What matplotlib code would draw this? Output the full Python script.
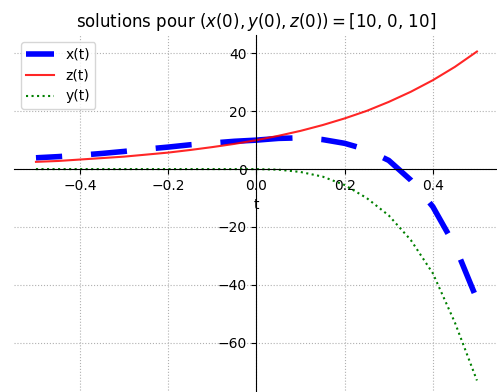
import matplotlib.pyplot as plt

# values
t = [-0.5, -0.45, -0.4, -0.35, -0.3, -0.25, -0.2, -0.15, -0.1, -0.05, 0.0,
     0.05, 0.1, 0.15, 0.2, 0.25, 0.3, 0.35, 0.4, 0.45, 0.5]
x_vals = [3.9, 4.3, 4.8, 5.4, 6.1, 6.9, 7.6, 8.4, 9.0, 9.6, 10.0,
          10.6, 10.8, 10.2, 8.9, 6.7, 3.0, -3.8, -13.0, -26.5, -45.0]
z_vals = [2.5, 2.8, 3.3, 3.8, 4.3, 5.0, 5.7, 6.6, 7.6, 8.7, 10.0,
          11.5, 13.2, 15.2, 17.5, 20.1, 23.2, 26.7, 30.7, 35.3, 40.6]
y_vals = [0.0, 0.0, 0.0, 0.0, 0.0, 0.0, 0.0, 0.0, 0.0, 0.0, 0.0,
          -0.2, -1.0, -2.6, -5.5, -10.0, -16.0, -24.5, -36.0, -53.0, -73.0]
init = [10, 0, 10]

i0 = t.index(0.0)

fig = plt.figure(figsize=(4.97, 3.92), dpi=100)
ax = fig.add_axes([0.028, -0.0125, 0.976, 0.923])

# x(t) drawn from t=0 outwards in both directions (dashes start at 0)
xstyle = dict(color='b', lw=4, linestyle=(0, (6.5, 5.2)))
ax.plot(t[i0:], x_vals[i0:], label='x(t)', **xstyle)
ax.plot(t[i0::-1], x_vals[i0::-1], **xstyle)
ax.plot(t, z_vals, color='r', lw=1.5, alpha=0.85, label='z(t)')
ax.plot(t, y_vals, color='g', lw=1.5, linestyle=':', label='y(t)')

# axes crossing at the origin
ax.spines['left'].set_position('zero')
ax.spines['bottom'].set_position('zero')
ax.spines['right'].set_visible(False)
ax.spines['top'].set_visible(False)
ax.grid(ls=':')
ax.set_xlabel('t')
ax.legend(loc='upper left')
ax.set_title(f'solutions pour $(x(0),y(0),z(0))=${init}')

plt.savefig('out.png', dpi=100)
